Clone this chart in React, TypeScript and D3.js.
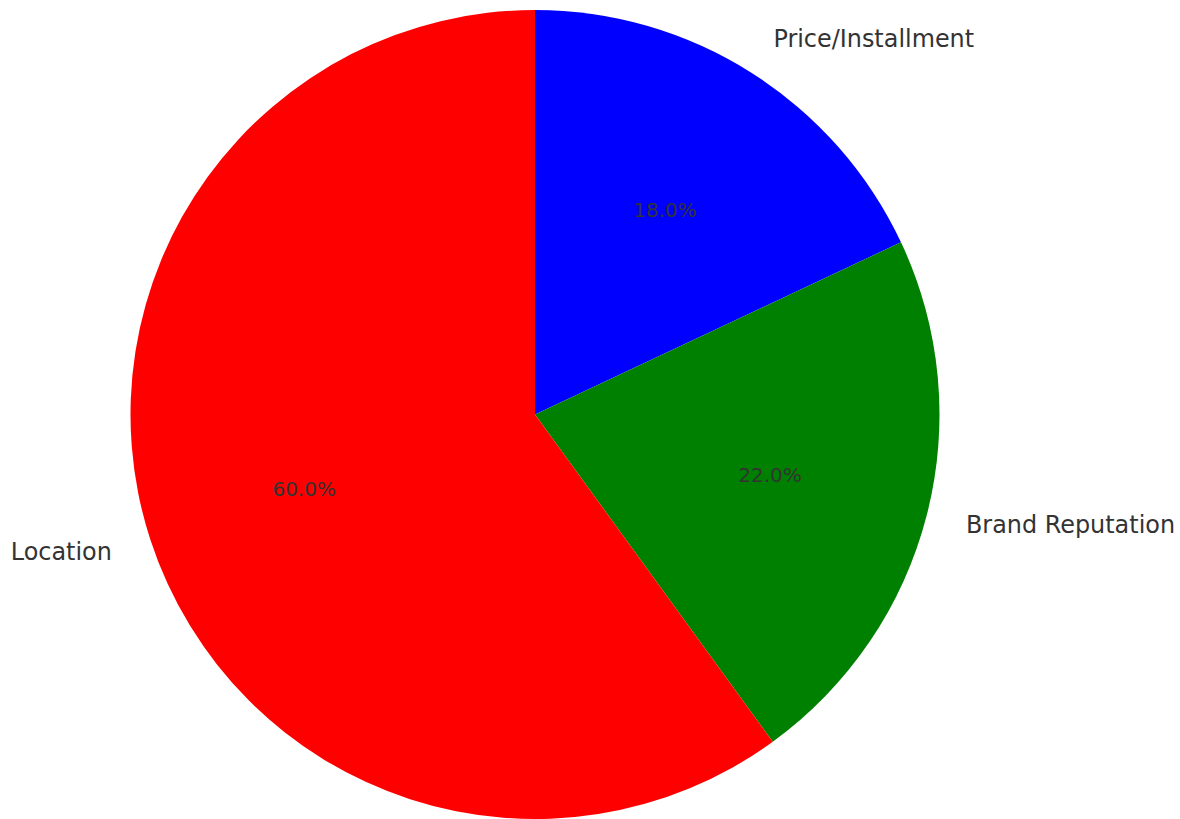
import React from "react";
import * as d3 from "d3";

const categories = ["Price/Installment", "Brand Reputation", "Location"];
const values = [18, 22, 60];
const colors = ["#0000ff", "#008000", "#ff0000"];

const W = 1180;
const H = 819;
const cx = 535;
const cy = 414.5;
const R = 404.5;

export default function App() {
  const total = d3.sum(values);
  const pie = d3.pie<number>().sort(null).startAngle(0).endAngle(2 * Math.PI);
  const arcs = pie(values);
  const arcGen = d3.arc<d3.PieArcDatum<number>>().innerRadius(0).outerRadius(R);
  const font = "'DejaVu Sans', sans-serif";
  return (
    <svg width={W} height={H} style={{ position: "absolute", left: 0, top: 0 }}>
      <rect width={W} height={H} fill="#ffffff" />
      <g transform={`translate(${cx},${cy})`}>
        {arcs.map((a, i) => (
          <path key={"p" + i} d={arcGen(a) || ""} fill={colors[i]} />
        ))}
        {arcs.map((a, i) => {
          const mid = (a.startAngle + a.endAngle) / 2;
          const lx = Math.sin(mid) * R * 1.1;
          const ly = -Math.cos(mid) * R * 1.1;
          const px = Math.sin(mid) * R * 0.6;
          const py = -Math.cos(mid) * R * 0.6;
          return (
            <g key={"t" + i}>
              <text
                x={lx}
                y={ly}
                textAnchor={lx >= 0 ? "start" : "end"}
                dominantBaseline="central"
                fontFamily={font}
                fontSize={23.9}
                fill="#333333"
              >
                {categories[i]}
              </text>
              <text
                x={px}
                y={py}
                textAnchor="middle"
                dominantBaseline="central"
                fontFamily={font}
                fontSize={20}
                fill="#333333"
              >
                {((values[i] / total) * 100).toFixed(1) + "%"}
              </text>
            </g>
          );
        })}
      </g>
    </svg>
  );
}
